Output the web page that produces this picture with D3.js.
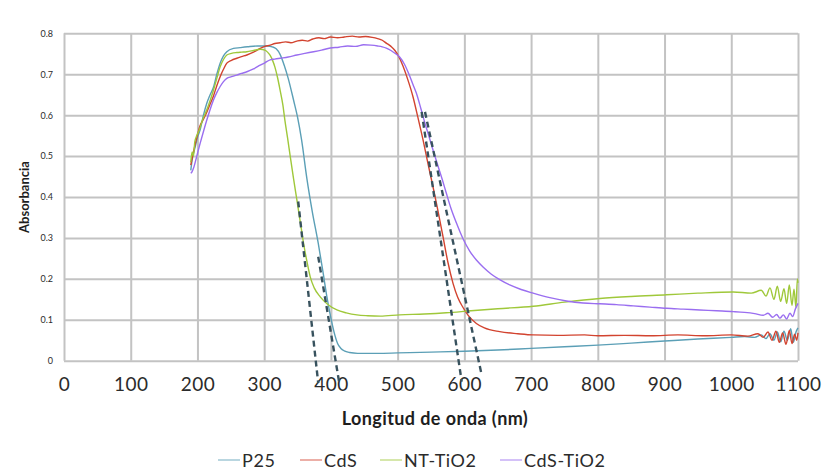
<!DOCTYPE html>
<html>
<head>
<meta charset="utf-8">
<script src="https://cdn.jsdelivr.net/npm/d3@7/dist/d3.min.js"></script>
<style>
    body { margin: 0; background: #fff; }
    svg { display: block; }
    .grid line { stroke: #c3c3c3; stroke-width: 2; }
    .grid path { display: none; }
    .axisLabels path, .axisLabels line { display: none; }
    .axisLabels text { fill: #2b2b2b; font-family: Lato, "Open Sans", sans-serif; }
    .curve { fill: none; stroke-width: 1.4; stroke-linejoin: round; }
    .tangent { fill: none; stroke: #38525e; stroke-width: 2.4; stroke-dasharray: 6, 4; }
    .title { fill: #1e1e1e; font-family: Lato, sans-serif; font-weight: bold; }
    .legendText { fill: #2b2b2b; font-family: Lato, sans-serif; font-size: 18px; letter-spacing: 0.6px; }
</style>
</head>
<body>
<svg id="chart" width="831" height="471"></svg>
<script>
/*
 Data
 */

var seriesNames = ['P25', 'CdS', 'NT-TiO2', 'CdS-TiO2'];
var seriesColors = ['#5b9fb6', '#d2432f', '#9fc83a', '#9a6ef0'];

var xTicks = [0, 100, 200, 300, 400, 500, 600, 700, 800, 900, 1000, 1100];
var yTicks = [0, 0.1, 0.2, 0.3, 0.4, 0.5, 0.6, 0.7, 0.8];

// [wavelength nm, absorbance]
var p25Data = [[190, 0.465], [192, 0.49], [197, 0.525], [200, 0.545], [204, 0.564], [209, 0.6], [214, 0.629],
    [219, 0.65], [224, 0.668], [229, 0.7], [234, 0.727], [239, 0.745], [244, 0.755], [254, 0.763],
    [264, 0.765], [275, 0.767], [290, 0.769], [305, 0.769], [312, 0.767], [318, 0.762], [324, 0.748],
    [330, 0.722], [336, 0.69], [344, 0.637], [350, 0.595], [356, 0.54], [364, 0.445], [372, 0.365],
    [381, 0.287], [388, 0.218], [394, 0.156], [400, 0.104], [406, 0.062], [410, 0.042], [415, 0.03],
    [420, 0.024], [428, 0.02], [440, 0.018], [470, 0.018], [500, 0.019], [550, 0.021], [600, 0.023],
    [650, 0.026], [700, 0.03], [750, 0.034], [800, 0.038], [850, 0.043], [900, 0.048], [950, 0.053],
    [1000, 0.057], [1020, 0.059], [1035, 0.057], [1045, 0.063], [1052, 0.054], [1058, 0.066], [1064, 0.05],
    [1069, 0.07], [1074, 0.046], [1079, 0.072], [1084, 0.05], [1089, 0.078], [1093, 0.045], [1097, 0.07],
    [1100, 0.08]];

var cdsData = [[190, 0.478], [194, 0.51], [199, 0.545], [204, 0.575], [209, 0.59], [214, 0.607], [219, 0.627],
    [224, 0.647], [229, 0.672], [234, 0.694], [239, 0.712], [244, 0.727], [251, 0.734], [259, 0.739],
    [266, 0.743], [274, 0.747], [284, 0.754], [294, 0.763], [301, 0.768], [309, 0.771], [316, 0.775],
    [324, 0.777], [332, 0.779], [340, 0.777], [349, 0.781], [357, 0.783], [365, 0.781], [373, 0.786],
    [382, 0.789], [390, 0.787], [399, 0.791], [410, 0.789], [420, 0.791], [432, 0.793], [442, 0.791],
    [452, 0.792], [462, 0.79], [470, 0.787], [477, 0.783], [483, 0.776], [490, 0.768], [496, 0.758],
    [502, 0.742], [508, 0.72], [515, 0.688], [523, 0.645], [530, 0.597], [538, 0.54], [545, 0.485],
    [553, 0.425], [560, 0.37], [568, 0.303], [575, 0.243], [583, 0.189], [590, 0.155], [598, 0.13],
    [606, 0.11], [618, 0.091], [630, 0.08], [653, 0.071], [680, 0.066], [703, 0.063], [740, 0.062],
    [780, 0.063], [800, 0.061], [840, 0.062], [880, 0.061], [920, 0.063], [960, 0.061], [1000, 0.063],
    [1025, 0.06], [1040, 0.066], [1048, 0.057], [1055, 0.07], [1061, 0.05], [1067, 0.072], [1072, 0.045],
    [1077, 0.068], [1082, 0.04], [1087, 0.074], [1091, 0.042], [1095, 0.065], [1098, 0.05], [1100, 0.068]];

var ntData = [[190, 0.485], [192, 0.51], [194, 0.5], [196, 0.535], [199, 0.55], [203, 0.565], [208, 0.59],
    [214, 0.613], [219, 0.636], [224, 0.661], [229, 0.69], [234, 0.718], [239, 0.736], [244, 0.747],
    [251, 0.751], [259, 0.753], [266, 0.754], [274, 0.755], [284, 0.758], [294, 0.761], [301, 0.759],
    [305, 0.754], [309, 0.746], [313, 0.732], [316, 0.718], [320, 0.692], [324, 0.66], [328, 0.625],
    [331, 0.588], [335, 0.545], [339, 0.5], [344, 0.445], [349, 0.393], [354, 0.34], [359, 0.287],
    [364, 0.243], [369, 0.205], [375, 0.178], [384, 0.156], [395, 0.138], [409, 0.124], [423, 0.117],
    [439, 0.112], [455, 0.11], [474, 0.109], [503, 0.112], [540, 0.114], [573, 0.117], [610, 0.122],
    [650, 0.127], [703, 0.133], [750, 0.143], [803, 0.152], [850, 0.157], [903, 0.161], [950, 0.165],
    [1003, 0.168], [1030, 0.165], [1045, 0.172], [1052, 0.158], [1058, 0.178], [1064, 0.15], [1069, 0.182],
    [1074, 0.145], [1079, 0.176], [1083, 0.14], [1087, 0.185], [1091, 0.135], [1094, 0.175], [1097, 0.13],
    [1099, 0.2], [1100, 0.19]];

var cdsTiO2Data = [[190, 0.458], [192, 0.462], [194, 0.47], [199, 0.5], [204, 0.531], [209, 0.56], [214, 0.588],
    [219, 0.614], [224, 0.637], [229, 0.655], [234, 0.67], [239, 0.682], [244, 0.69], [251, 0.694],
    [259, 0.698], [266, 0.702], [274, 0.706], [284, 0.713], [294, 0.722], [301, 0.728], [309, 0.735],
    [316, 0.737], [324, 0.739], [336, 0.742], [349, 0.747], [361, 0.751], [374, 0.755], [386, 0.759],
    [399, 0.764], [412, 0.766], [425, 0.769], [437, 0.768], [449, 0.772], [460, 0.771], [470, 0.769],
    [477, 0.767], [483, 0.764], [490, 0.758], [497, 0.75], [503, 0.742], [510, 0.725], [517, 0.7],
    [523, 0.675], [528, 0.654], [535, 0.615], [541, 0.58], [547, 0.548], [553, 0.515], [560, 0.478],
    [567, 0.442], [573, 0.409], [580, 0.372], [588, 0.337], [598, 0.298], [608, 0.268], [618, 0.246],
    [628, 0.229], [640, 0.212], [653, 0.198], [668, 0.185], [685, 0.174], [703, 0.165], [728, 0.154],
    [753, 0.146], [778, 0.141], [803, 0.139], [828, 0.137], [853, 0.134], [878, 0.131], [903, 0.128],
    [928, 0.126], [953, 0.124], [978, 0.122], [1003, 0.12], [1020, 0.118], [1035, 0.115], [1048, 0.111],
    [1055, 0.116], [1062, 0.106], [1068, 0.113], [1073, 0.104], [1078, 0.112], [1083, 0.102], [1088, 0.116],
    [1092, 0.108], [1096, 0.126], [1100, 0.14]];

// band edge tangents, two points each
var tangentData = [
    [[351, 0.389], [381, -0.055]],
    [[381, 0.254], [412.6, -0.055]],
    [[536, 0.608], [596, -0.051]],
    [[541, 0.608], [626, -0.035]]
];

var legendX = [218, 300, 380, 500];

/*
 Chart creation
 */

var svg = d3.select('#chart');

var PLOT_LEFT = 64, PLOT_RIGHT = 798, PLOT_TOP = 33.3, PLOT_BOTTOM = 360.7;

var x = d3.scaleLinear().domain([0, 1100]).range([PLOT_LEFT, PLOT_RIGHT]);
var y = d3.scaleLinear().domain([0, 0.8]).range([PLOT_BOTTOM, PLOT_TOP]);

function makeGridSVG(svg) {
    svg.append('g')
        .classed('grid', true)
        .attr('transform', 'translate(0,' + PLOT_BOTTOM + ')')
        .call(d3.axisBottom(x).tickValues(xTicks).tickSize(-(PLOT_BOTTOM - PLOT_TOP)).tickFormat(''));

    svg.append('g')
        .classed('grid', true)
        .attr('transform', 'translate(' + PLOT_LEFT + ',0)')
        .call(d3.axisLeft(y).tickValues(yTicks).tickSize(-(PLOT_RIGHT - PLOT_LEFT)).tickFormat(''));
}

function makeAxesSVG(svg) {
    var xAxis = svg.append('g')
        .classed('axisLabels', true)
        .attr('transform', 'translate(0,' + PLOT_BOTTOM + ')')
        .call(d3.axisBottom(x).tickValues(xTicks).tickSize(0).tickPadding(20)
            .tickFormat(d3.format('d')));
    xAxis.selectAll('text')
        .style('font-size', '19px')
        .attr('dy', '0.55em')
        .attr('letter-spacing', '0.5px');

    var yAxis = svg.append('g')
        .classed('axisLabels', true)
        .attr('transform', 'translate(' + (PLOT_LEFT - 11) + ',0)')
        .call(d3.axisLeft(y).tickValues(yTicks).tickSize(0).tickPadding(0)
            .tickFormat(function (d) {
                return d === 0 ? '0' : d3.format('.1f')(d);
            }));
    yAxis.selectAll('text')
        .style('font-size', '9px');

    svg.append('text')
        .classed('title', true)
        .attr('x', 435)
        .attr('y', 425)
        .attr('text-anchor', 'middle')
        .style('font-size', '18px')
        .attr('letter-spacing', '0.4px')
        .text('Longitud de onda (nm)');

    svg.append('text')
        .classed('title', true)
        .attr('transform', 'translate(29,197) rotate(-90)')
        .attr('text-anchor', 'middle')
        .style('font-size', '13px')
        .text('Absorbancia');
}

function makeCurvesSVG(seriesData, svg) {
    var line = d3.line()
        .x(function (d) {
            return x(d[0]);
        })
        .y(function (d) {
            return y(d[1]);
        })
        .curve(d3.curveMonotoneX);

    svg.selectAll('.curve')
        .data(seriesData)
        .enter().append('path')
        .classed('curve', true)
        .attr('stroke', function (d, i) {
            return seriesColors[i];
        })
        .attr('d', line);
}

function makeTangentsSVG(tangentData, svg) {
    var line = d3.line()
        .x(function (d) {
            return x(d[0]);
        })
        .y(function (d) {
            return y(d[1]);
        });

    svg.selectAll('.tangent')
        .data(tangentData)
        .enter().append('path')
        .classed('tangent', true)
        .attr('d', line);
}

function makeLegendSVG(svg) {
    var legend = svg.selectAll('.legend')
        .data(seriesNames)
        .enter().append('g')
        .classed('legend', true)
        .attr('transform', function (d, i) {
            return 'translate(' + legendX[i] + ',460)';
        });

    legend.append('line')
        .attr('x1', 0)
        .attr('x2', 22)
        .attr('y1', 0)
        .attr('y2', 0)
        .attr('stroke', function (d, i) {
            return seriesColors[i];
        })
        .attr('stroke-width', 1.2)
        .attr('opacity', 0.7);

    legend.append('text')
        .classed('legendText', true)
        .attr('x', 24)
        .attr('y', 7)
        .text(function (d) {
            return d;
        });
}

makeGridSVG(svg);
makeAxesSVG(svg);
makeCurvesSVG([p25Data, cdsData, ntData, cdsTiO2Data], svg);
makeTangentsSVG(tangentData, svg);
makeLegendSVG(svg);
</script>
</body>
</html>
